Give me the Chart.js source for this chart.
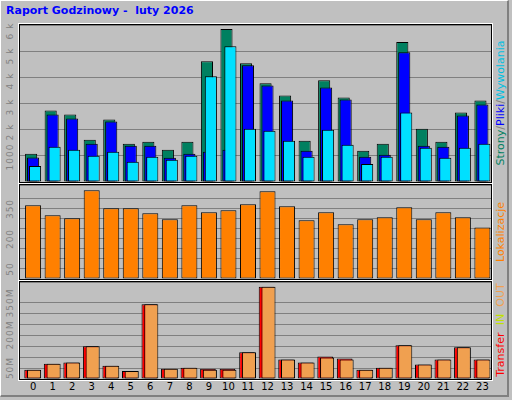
<!DOCTYPE html>
<html><head><meta charset="utf-8">
<script src="https://cdn.jsdelivr.net/npm/chart.js@4"></script>
<style>
body{margin:0;width:512px;height:400px;background:#c0c0c0;font-family:"DejaVu Sans",sans-serif;overflow:hidden}
#frame{position:absolute;left:0;top:0;width:506px;height:394px;border:1px solid #fff;border-right:2px solid #808080;border-bottom:2px solid #808080;box-sizing:content-box}
.panel{position:absolute;left:19px;width:471px;border:1px solid #000;outline:1px solid #fff}
canvas{position:absolute;left:0;top:0}
.yl{position:absolute;font-size:9px;color:#808080;transform:translate(-50%,-50%) rotate(-90deg);white-space:nowrap;letter-spacing:1px}
.xl{position:absolute;font-size:10px;color:#000;transform:translateX(-50%);top:381px}
.rl{position:absolute;font-size:11px;transform:translate(-50%,-50%) rotate(-90deg);white-space:nowrap;font-family:"DejaVu Sans",sans-serif}
#title{position:absolute;left:6px;top:4px;font-size:11px;font-weight:bold;color:#0000ff;font-family:"DejaVu Sans",sans-serif}
</style></head><body>
<div id="frame"></div>
<div id="title">Raport Godzinowy -&nbsp; luty 2026</div>
<div class="panel" style="top:24px;height:157px"><canvas id="c1" width="471" height="157"></canvas></div>
<div class="panel" style="top:184px;height:94px"><canvas id="c2" width="471" height="94"></canvas></div>
<div class="panel" style="top:281px;height:97px"><canvas id="c3" width="471" height="97"></canvas></div>
<div id="labels"></div>
<div class="rl" style="left:500px;top:103px"><span style="color:#008060">Strony</span><span style="color:#808080">/</span><span style="color:#0000ff">Pliki</span><span style="color:#808080">/</span><span style="color:#00c0e0">Wywolania</span></div>
<div class="rl" style="left:500px;top:232px;color:#ff8000">Lokalizacje</div>
<div class="rl" style="left:500px;top:330px"><span style="color:#ff0000">Transfer</span><span style="color:#c0c0c0"> /</span><span style="color:#c0e000">IN</span><span style="color:#c0c0c0"> /</span><span style="color:#f0a050">OUT</span></div>
<script>
const hours=[0,1,2,3,4,5,6,7,8,9,10,11,12,13,14,15,16,17,18,19,20,21,22,23];
const strony=[1120,2840,2680,1680,2480,1520,1600,1280,1600,4800,6080,4720,3920,3440,1640,4040,3360,1240,1520,5560,2120,1600,2760,3240];
const pliki=[970,2680,2520,1520,2400,1440,1440,960,1120,1200,1280,4640,3840,3240,1240,3760,3280,1000,1080,5160,1440,1400,2640,3080];
const wywolania=[640,1400,1280,1040,1200,800,1000,880,1040,4200,5400,2120,2040,1640,1000,2080,1480,720,1000,2760,1360,960,1360,1520];
const lokalizacje=[367,317,302,442,352,352,327,297,367,332,342,372,437,362,292,332,272,297,307,357,297,332,307,257];
const transferIn=[42,70,75,150,61,37,342,47,52,47,47,122,422,89,75,103,94,42,52,155,66,89,145,89];
const transferOut=[42,70,75,150,61,37,342,47,52,42,42,122,422,89,75,98,89,42,52,155,66,89,145,89];
const topTicks=[[1000,"1000"],[2000,"2 k"],[3000,"3 k"],[4000,"4 k"],[5000,"5 k"],[6000,"6 k"]];
const midTicks=[[50,"50"],[200,"200"],[350,"350"]];
const botTicks=[[50,"50M"],[200,"200M"],[350,"350M"]];
const XMIN=-0.67,XMAX=23.44;
const labelsDiv=document.getElementById('labels');
function xs(n){const o={};for(let i=0;i<n;i++){o['x'+i]={type:'linear',display:false,offset:false,min:XMIN,max:XMAX,bounds:'ticks'};}return o;}
function pts(arr,off){return arr.map((v,i)=>({x:hours[i]+off,y:v}));}
function ds(arr,off,ax,color,bp,order){return {data:pts(arr,off),xAxisID:ax,backgroundColor:color,borderColor:'#000',borderWidth:1,borderSkipped:false,barPercentage:bp,categoryPercentage:1,grouped:false,order:order};}
function make(id,datasets,nax,ymax,step,ticks,panelTop){
  const scales=xs(nax);
  scales.y={min:0,max:ymax,display:true,afterFit:s=>{s.width=0;},ticks:{display:false,stepSize:step},grid:{color:'#808080',drawTicks:false},border:{display:false}};
  return new Chart(document.getElementById(id),{type:'bar',data:{datasets},options:{animation:false,responsive:false,devicePixelRatio:1,layout:{padding:0},plugins:{legend:{display:false},tooltip:{enabled:false}},scales},
  plugins:[{id:'lbl',afterDraw(c){ticks.forEach(([v,t])=>{const d=document.createElement('div');d.className='yl';d.textContent=t;d.style.left='10px';d.style.top=(panelTop+1+c.scales.y.getPixelForValue(v))+'px';labelsDiv.appendChild(d);});}}]});
}
make('c1',[ds(strony,-0.1,'x0','#008060',0.62,3),ds(pliki,0,'x1','#0000ff',0.62,2),ds(wywolania,0.1,'x2','#00e0ff',0.62,1)],3,6240,1000,topTicks,24);
make('c2',[ds(lokalizacje,0,'x0','#ff8000',0.82,1)],1,468,50,midTicks,184);
const c3=make('c3',[ds(transferIn,-0.05,'x0','#ff0000',0.8,2),ds(transferOut,0.05,'x1','#f0a050',0.72,1)],2,444,50,botTicks,281);
hours.forEach(h=>{const d=document.createElement('div');d.className='xl';d.textContent=h;d.style.left=(20+c3.scales.x0.getPixelForValue(h))+'px';labelsDiv.appendChild(d);});
</script></body></html>
